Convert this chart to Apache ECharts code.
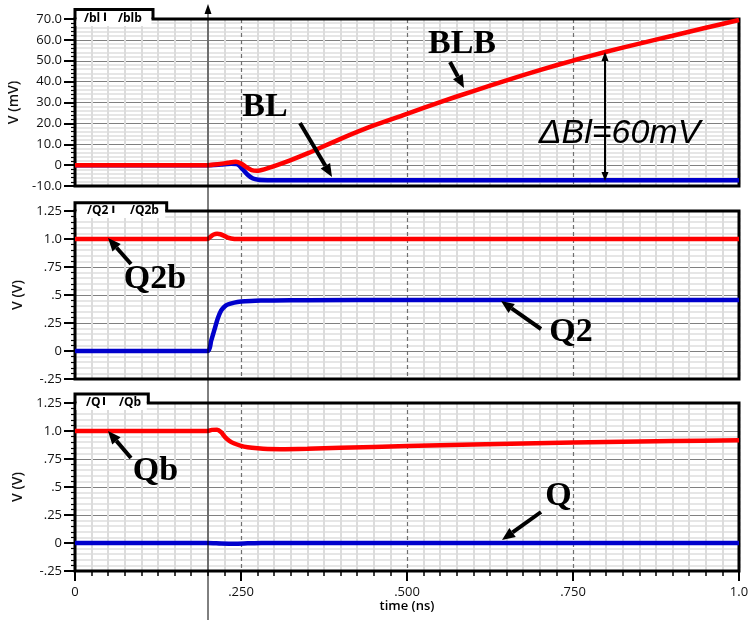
<!DOCTYPE html>
<html>
<head>
<meta charset="utf-8">
<title>BL / Q waveforms</title>
<script src="https://cdn.jsdelivr.net/npm/echarts/dist/echarts.min.js"></script>
<style>
  html, body { margin: 0; padding: 0; background: #fff; }
  #chart { width: 753px; height: 620px; }
</style>
</head>
<body>
<div id="chart"></div>
<script>
// samples, time in ns
var blTime  = [0, 0.2, 0.22, 0.235, 0.245, 0.252, 0.26, 0.268, 0.276, 0.29, 0.32, 0.5, 1.0];
var blVal   = [0, 0, 0.3, 0.6, 0.3, -1.8, -4.6, -6.4, -7.0, -7.2, -7.3, -7.3, -7.3];   // mV

var blbTime = [0, 0.2, 0.215, 0.23, 0.242, 0.25, 0.258, 0.266, 0.274, 0.285, 0.3, 0.325, 0.35, 0.4,
               0.45, 0.5, 0.55, 0.6, 0.65, 0.7, 0.75, 0.8, 0.85, 0.9, 0.95, 1.0];
var blbVal  = [0, 0, 0.4, 1.1, 1.6, 0.8, -1.0, -2.4, -2.7, -2.0, -0.5, 2.4, 5.6, 12.6,
               19.0, 24.6, 30.2, 35.5, 40.6, 45.5, 50.1, 54.3, 58.2, 62.0, 65.8, 69.5]; // mV

var q2Time  = [0, 0.2, 0.205, 0.21, 0.215, 0.22, 0.225, 0.23, 0.24, 0.25, 0.265, 0.28, 0.3, 0.35, 0.5, 1.0];
var q2Val   = [0, 0, 0.09, 0.19, 0.29, 0.36, 0.395, 0.415, 0.432, 0.441, 0.447, 0.45, 0.452, 0.454, 0.455, 0.455];

var q2bTime = [0, 0.2, 0.204, 0.209, 0.214, 0.219, 0.224, 0.229, 0.235, 0.245, 0.26, 1.0];
var q2bVal  = [1, 1, 1.02, 1.04, 1.046, 1.042, 1.03, 1.015, 1.005, 1.0, 1.0, 1.0];

var qTime   = [0, 0.2, 0.22, 0.24, 0.26, 0.28, 1.0];
var qVal    = [0, 0, -0.004, -0.006, -0.003, 0, 0];

var qbTime  = [0, 0.2, 0.206, 0.214, 0.22, 0.226, 0.233, 0.24, 0.25, 0.26, 0.275, 0.29, 0.31, 0.35,
               0.4, 0.5, 0.6, 0.75, 0.9, 1.0];
var qbVal   = [1, 1, 1.01, 1.012, 0.99, 0.945, 0.91, 0.888, 0.867, 0.855, 0.845, 0.839, 0.838, 0.842,
               0.85, 0.866, 0.879, 0.897, 0.91, 0.917];

// tick labels
var mvTicks   = ['-10.0', '0', '10.0', '20.0', '30.0', '40.0', '50.0', '60.0', '70.0'];
var voltTicks = ['-.25', '0', '.25', '.5', '.75', '1.0', '1.25'];
var timeTicks = ['0', '.250', '.500', '.750', '1.0'];

var RED = '#ff0000';
var BLUE = '#0000cc';
var SANS = '"Open Sans", "Noto Sans", sans-serif';

function pairs(t, v) {
    return t.map(function (x, i) { return [x, v[i]]; });
}

var grids = [
    { left: 75, right: 14, top: 19, height: 167 },
    { left: 75, right: 14, top: 211, height: 168 },
    { left: 75, right: 14, top: 403, height: 168 }
];

function xAxis(gi, withLabels) {
    return {
        type: 'value', gridIndex: gi, min: 0, max: 1, interval: 0.25,
        name: withLabels ? 'time (ns)' : '',
        nameLocation: 'middle', nameGap: 28,
        nameTextStyle: { color: '#000', fontFamily: SANS, fontSize: 13, fontWeight: 600 },
        axisLine: { show: false, onZero: false },
        axisTick: { show: withLabels, length: 10, lineStyle: { color: '#000', width: 2 } },
        minorTick: { show: withLabels, splitNumber: 10, length: 5, lineStyle: { color: '#000', width: 1.5 } },
        axisLabel: {
            show: withLabels, margin: 15, color: '#111', fontFamily: SANS, fontSize: 13,
            formatter: function (v) { return timeTicks[Math.round(v / 0.25)]; }
        },
        splitLine: { show: true, lineStyle: { color: '#707070', width: 1.2, type: [4, 3] } },
        minorSplitLine: { show: true, lineStyle: { color: '#dcdcdc', width: 2 } }
    };
}

function yAxis(gi, min, max, step, labels, name) {
    return {
        type: 'value', gridIndex: gi, min: min, max: max, interval: step,
        name: name, nameLocation: 'middle', nameGap: 43,
        nameTextStyle: { color: '#111', fontFamily: SANS, fontSize: 14, fontWeight: 600 },
        axisLine: { show: false },
        axisTick: { show: true, length: 11, lineStyle: { color: '#000', width: 2 } },
        minorTick: { show: true, splitNumber: 5, length: 4, lineStyle: { color: '#000', width: 1.2 } },
        axisLabel: {
            margin: 13, color: '#111', fontFamily: SANS, fontSize: 13,
            formatter: function (v) { return labels[Math.round((v - min) / step)]; }
        },
        splitLine: { show: true, lineStyle: { color: '#808080', width: 1.2 } },
        minorSplitLine: { show: true, lineStyle: { color: '#dedede', width: 1.5 } }
    };
}

function wave(gi, t, v, color, width) {
    return {
        type: 'line', xAxisIndex: gi, yAxisIndex: gi,
        data: pairs(t, v),
        showSymbol: false, smooth: 0.25,
        lineStyle: { color: color, width: width },
        itemStyle: { color: color },
        silent: true, z: 3
    };
}

// --- annotation helpers (pixel space) ---
var gfx = [];

function arrow(x1, y1, x2, y2, w, hl, hw) {
    var dx = x2 - x1, dy = y2 - y1, len = Math.sqrt(dx * dx + dy * dy);
    var ux = dx / len, uy = dy / len;
    var bx = x2 - ux * hl, by = y2 - uy * hl;
    gfx.push({ type: 'line', z: 20, shape: { x1: x1, y1: y1, x2: bx, y2: by },
        style: { stroke: '#000', lineWidth: w } });
    gfx.push({ type: 'polygon', z: 20, shape: { points: [[x2, y2],
        [bx - uy * hw / 2, by + ux * hw / 2], [bx + uy * hw / 2, by - ux * hw / 2]] },
        style: { fill: '#000' } });
}

function label(text, x, y, font) {
    gfx.push({ type: 'text', z: 20, x: x, y: y,
        style: { text: text, font: font, fill: '#000', align: 'center', verticalAlign: 'middle' } });
}

function tab(top, plotTop, right, sep, a, xa, b, xb, ty) {
    gfx.push({ type: 'rect', z: 10, shape: { x: 76.5, y: top + 1.5, width: right - 78, height: plotTop + 7 - top - 1.5 },
        style: { fill: '#fff' } });
    gfx.push({ type: 'polyline', z: 11, shape: { points: [[75, plotTop], [75, top], [right, top], [right, plotTop]] },
        style: { stroke: '#000', lineWidth: 3, fill: null } });
    gfx.push({ type: 'line', z: 11, shape: { x1: sep, y1: top + 3, x2: sep, y2: plotTop + 2 },
        style: { stroke: '#000', lineWidth: 2 } });
    [[a, xa], [b, xb]].forEach(function (p) {
        gfx.push({ type: 'text', z: 11, x: p[1], y: ty,
            style: { text: p[0], font: 'bold 12px ' + SANS, fill: '#000', align: 'left', verticalAlign: 'middle' } });
    });
}

// plot frames
grids.forEach(function (g) {
    gfx.push({ type: 'rect', z: 1, shape: { x: g.left, y: g.top, width: 753 - g.left - g.right, height: g.height },
        style: { fill: null, stroke: '#000', lineWidth: 3 } });
});

tab(9.5, 19, 153, 105, '/bl', 84, '/blb', 118, 18.7);
tab(202.7, 211, 166.7, 113.3, '/Q2', 87, '/Q2b', 130, 211);
tab(394, 403, 148.3, 104, '/Q', 86, '/Qb', 119, 402.5);

// cursor line at t = 0.2 ns
arrow(208, 620, 208, 4, 1, 10, 7);

// arrows to traces
arrow(450, 62, 464, 88, 4, 13, 11);
arrow(300, 123, 332, 177, 4, 13, 11);
arrow(131, 264, 108, 238, 4, 13, 11);
arrow(541, 329, 501, 301, 4, 13, 11);
arrow(131, 458, 108, 431, 4, 13, 11);
arrow(541, 512, 502, 540, 4, 13, 11);

// delta arrow (double headed)
arrow(605, 116, 605, 52, 2, 9, 7);
arrow(605, 116, 605, 181, 2, 9, 7);

var SERIF = 'bold 34px "Liberation Serif", "Times New Roman", serif';
label('BLB', 462, 44, SERIF);
label('BL', 265, 107.5, SERIF);
label('Q2b', 155, 279, SERIF);
label('Q2', 571, 332.5, SERIF);
label('Qb', 155.5, 471, SERIF);
label('Q', 558.5, 496, SERIF);
label('\u0394Bl=60mV', 619.5, 134, 'italic 34px "Liberation Sans", Arial, sans-serif');

var chart = echarts.init(document.getElementById('chart'), null, { renderer: 'canvas' });
chart.setOption({
    animation: false,
    backgroundColor: '#fff',
    grid: grids.map(function (g) { return Object.assign({ outerBoundsMode: 'none', containLabel: false }, g); }),
    xAxis: [xAxis(0, false), xAxis(1, false), xAxis(2, true)],
    yAxis: [
        yAxis(0, -10, 70, 10, mvTicks, 'V (mV)'),
        yAxis(1, -0.25, 1.25, 0.25, voltTicks, 'V (V)'),
        yAxis(2, -0.25, 1.25, 0.25, voltTicks, 'V (V)')
    ],
    series: [
        wave(0, blTime, blVal, BLUE, 4.5),
        wave(0, blbTime, blbVal, RED, 4.5),
        wave(1, q2Time, q2Val, BLUE, 4.5),
        wave(1, q2bTime, q2bVal, RED, 4.5),
        wave(2, qTime, qVal, BLUE, 4.5),
        wave(2, qbTime, qbVal, RED, 4.5)
    ],
    graphic: gfx
});
window.addEventListener('resize', function () { chart.resize(); });
</script>
</body>
</html>
